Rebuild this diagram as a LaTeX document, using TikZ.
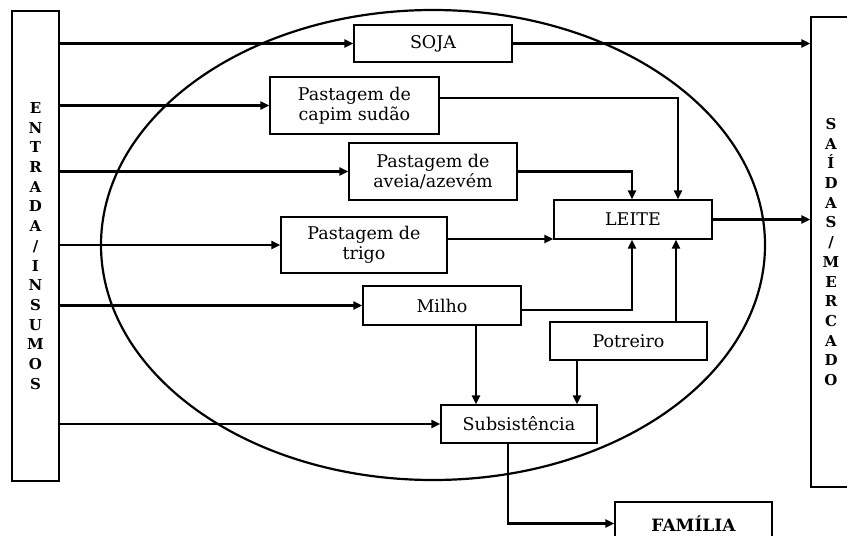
\documentclass[tikz,border=0pt]{standalone}
\usepackage{fontspec}
\setmainfont{DejaVu Serif}
\usetikzlibrary{arrows.meta,calc}
\begin{document}
\begin{tikzpicture}[x=1pt,y=-1pt,
  box/.style={draw, line width=1.4pt, align=center, inner sep=0pt,
    font=\fontsize{17.5}{20}\selectfont},
  side/.style={draw, line width=1.4pt, align=center, inner sep=0pt,
    font=\bfseries\fontsize{15}{19.7}\selectfont},
  conn/.style={line width=2.2pt, -{Triangle[length=9pt,width=8pt]}}]
\useasboundingbox (0,0) rectangle (847,536);
\clip (0,0) rectangle (847,536);
\draw[line width=2.2pt] (433,245) ellipse [x radius=332, y radius=235];

\node[side, minimum width=47pt, minimum height=470pt] (in) at (35.5,246)
  {E\\N\\T\\R\\A\\D\\A\\/\\I\\N\\S\\U\\M\\O\\S};
\node[side, minimum width=40pt, minimum height=470pt] (out) at (831,252)
  {S\\A\\Í\\D\\A\\S\\/\\M\\E\\R\\C\\A\\D\\O};

\node[box, minimum width=158pt, minimum height=37pt] (soja) at (433,43.5) {SOJA};
\node[box, minimum width=169pt, minimum height=57pt] (capim) at (354.5,105.5) {Pastagem de\\capim sudão};
\node[box, minimum width=168pt, minimum height=57pt] (aveia) at (433,171.5) {Pastagem de\\aveia/azevém};
\node[box, minimum width=158pt, minimum height=39pt] (leite) at (633,219.5) {LEITE};
\node[box, minimum width=166pt, minimum height=56pt] (trigo) at (364,245) {Pastagem de\\trigo};
\node[box, minimum width=158pt, minimum height=39pt] (milho) at (442,305.5) {Milho};
\node[box, minimum width=157pt, minimum height=38pt] (potreiro) at (628.5,341) {Potreiro};
\node[box, minimum width=156pt, minimum height=38pt] (subs) at (519,424) {Subsistência};
\node[box, minimum width=157pt, minimum height=43pt, font=\bfseries\fontsize{17}{20}\selectfont] (familia) at (693.5,523.5) {FAMÍLIA};

\draw[conn] (in.east |- soja.west) -- (soja.west);
\draw[conn] (soja.east) -- (soja.east -| out.west);
\draw[conn] (in.east |- capim.west) -- (capim.west);
\draw[conn] ([yshift=7.5pt]capim.east) -| ([xshift=45pt]leite.north);
\draw[conn] (in.east |- aveia.west) -- (aveia.west);
\draw[conn] (aveia.east) -| ([xshift=-1pt]leite.north);
\draw[conn] (in.east |- trigo.west) -- (trigo.west);
\coordinate (t1) at ([yshift=6pt]trigo.east);
\draw[conn] (t1) -- (t1 -| leite.west);
\draw[conn] (in.east |- milho.west) -- (milho.west);
\draw[conn] ([yshift=-4.5pt]milho.east) -| ([xshift=-1pt]leite.south);
\draw[conn] ([xshift=47.5pt]potreiro.north) -- ([xshift=43pt]leite.south);
\draw[conn] ([xshift=34pt]milho.south) -- ([xshift=-43pt]subs.north);
\draw[conn] ([xshift=-51.5pt]potreiro.south) -- ([xshift=58pt]subs.north);
\draw[conn] (in.east |- subs.west) -- (subs.west);
\draw[conn] ([xshift=-11pt]subs.south) |- (familia.west);
\draw[conn] (leite.east) -- (leite.east -| out.west);
\end{tikzpicture}
\end{document}
